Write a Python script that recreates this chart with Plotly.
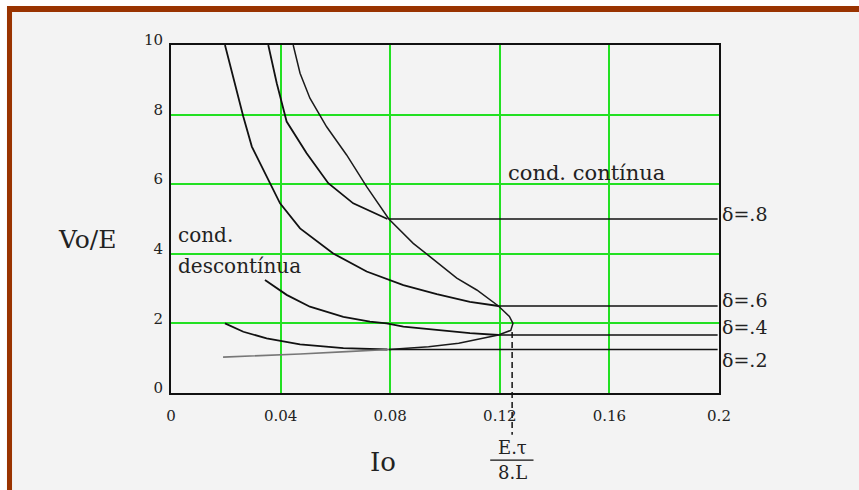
import plotly.graph_objects as go

# ---- data ----
x_ticks = [0, 0.04, 0.08, 0.12, 0.16, 0.2]
x_ticklabels = ["0", "0.04", "0.08", "0.12", "0.16", "0.2"]
y_ticks = [0, 2, 4, 6, 8, 10]
y_ticklabels = ["0", "2", "4", "6", "8", "10"]

# discontinuous-conduction curves for each duty cycle
d08_io = [0.0355, 0.0386, 0.0422, 0.0495, 0.0574, 0.0665, 0.0790]
d08_v = [10.0, 8.9, 7.8, 6.89, 6.03, 5.45, 5.0]
d06_io = [0.0197, 0.0264, 0.0295, 0.0361, 0.0398, 0.0471, 0.0592, 0.0714, 0.0848, 0.097, 0.1091, 0.1195]
d06_v = [10.0, 7.94, 7.08, 6.03, 5.45, 4.73, 4.01, 3.49, 3.10, 2.84, 2.62, 2.50]
d04_io = [0.0343, 0.0422, 0.0507, 0.0629, 0.0726, 0.0787, 0.0848, 0.097, 0.1091, 0.1195]
d04_v = [3.25, 2.82, 2.48, 2.19, 2.05, 2.0, 1.91, 1.81, 1.72, 1.667]
d02_io = [0.0197, 0.0264, 0.0349, 0.0471, 0.0629, 0.0790]
d02_v = [2.0, 1.76, 1.57, 1.40, 1.29, 1.25]

# continuous-conduction levels (horizontal lines)
delta_labels = ["δ=.8", "δ=.6", "δ=.4", "δ=.2"]
delta_levels = [5.0, 2.5, 1.667, 1.25]
delta_start_io = [0.0795, 0.1195, 0.1195, 0.0795]
delta_end_io = 0.1995
delta_label_v = [5.15, 2.68, 1.9, 0.95]

# boundary between conduction modes
bnd_low_io = [0.019, 0.030, 0.0386, 0.0471, 0.0641, 0.0795]
bnd_low_v = [1.03, 1.06, 1.09, 1.12, 1.19, 1.25]
bnd_io = [0.0795, 0.094, 0.105, 0.1195, 0.124, 0.1248, 0.1235, 0.1195, 0.1116, 0.1043,
          0.0945, 0.0884, 0.0795, 0.0714, 0.0641, 0.0568, 0.0507, 0.0471, 0.0446]
bnd_v = [1.25, 1.33, 1.43, 1.667, 1.80, 2.0, 2.2, 2.5, 2.96, 3.30,
         3.92, 4.30, 5.0, 5.93, 6.84, 7.65, 8.47, 9.19, 10.0]

tip_io = 0.1245
dash_top_v = 1.75
y_max = 10
x_max = 0.2

FONT = "DejaVu Serif"
GRID = "#22e022"

fig = go.Figure()

for xs, ys in [(d08_io, d08_v), (d06_io, d06_v), (d04_io, d04_v), (d02_io, d02_v)]:
    fig.add_trace(go.Scatter(x=xs, y=ys, mode="lines",
                             line=dict(color="#111111", width=1.8),
                             showlegend=False, hoverinfo="skip"))

for lvl, x0 in zip(delta_levels, delta_start_io):
    fig.add_trace(go.Scatter(x=[x0, delta_end_io], y=[lvl, lvl], mode="lines",
                             line=dict(color="#111111", width=1.4),
                             showlegend=False, hoverinfo="skip"))

fig.add_trace(go.Scatter(x=bnd_low_io, y=bnd_low_v, mode="lines",
                         line=dict(color="#777777", width=1.6),
                         showlegend=False, hoverinfo="skip"))
fig.add_trace(go.Scatter(x=bnd_io, y=bnd_v, mode="lines",
                         line=dict(color="#1a1a1a", width=1.5),
                         showlegend=False, hoverinfo="skip"))

# dashed marker at the boundary maximum, extending below the axis
fig.add_shape(type="line", xref="x", yref="paper", x0=tip_io, x1=tip_io,
              y0=dash_top_v / y_max, y1=-0.12,
              line=dict(color="#111111", width=1.5, dash="6px,4px"))
# fraction bar
fig.add_shape(type="line", xref="x", yref="paper", x0=tip_io - 0.0080, x1=tip_io + 0.0078,
              y0=-0.193, y1=-0.193, line=dict(color="#111111", width=1.3))

# frame decoration (white margin + brown border on top and left)
fig.add_shape(type="rect", xref="paper", yref="paper", x0=-0.32, x1=1.3, y0=1.1121, y1=1.14,
              fillcolor="white", line=dict(width=0))
fig.add_shape(type="rect", xref="paper", yref="paper", x0=-0.32, x1=1.3, y0=1.0948, y1=1.1121,
              fillcolor="#993300", line=dict(width=0))
fig.add_shape(type="rect", xref="paper", yref="paper", x0=-0.32, x1=-0.2993, y0=-0.3, y1=1.1121,
              fillcolor="white", line=dict(width=0))
fig.add_shape(type="rect", xref="paper", yref="paper", x0=-0.2993, x1=-0.2901, y0=-0.3, y1=1.0948,
              fillcolor="#993300", line=dict(width=0))

ann = []
for lab, v in zip(delta_labels, delta_label_v):
    ann.append(dict(x=x_max, y=v, xref="x", yref="y", text=lab, showarrow=False,
                    xanchor="left", yanchor="middle", xshift=1,
                    font=dict(family=FONT, size=19, color="#222222")))
ann += [
    dict(x=0.1515, y=6.33, xref="x", yref="y", text="cond. contínua", showarrow=False,
         xanchor="center", yanchor="middle", font=dict(family=FONT, size=21, color="#222222")),
    dict(x=0.002, y=4.55, xref="x", yref="y", text="cond.", showarrow=False,
         xanchor="left", yanchor="middle", font=dict(family=FONT, size=20, color="#222222")),
    dict(x=0.002, y=3.65, xref="x", yref="y", text="descontínua", showarrow=False,
         xanchor="left", yanchor="middle", font=dict(family=FONT, size=20, color="#222222")),
    dict(x=-0.153, y=0.44, xref="paper", yref="paper", text="Vo/E", showarrow=False,
         xanchor="center", yanchor="middle", font=dict(family=FONT, size=25, color="#222222")),
    dict(x=0.386, y=-0.197, xref="paper", yref="paper", text="Io", showarrow=False,
         xanchor="center", yanchor="middle", font=dict(family=FONT, size=26, color="#222222")),
    dict(x=tip_io, y=-0.158, xref="x", yref="paper", text="E.τ", showarrow=False,
         xanchor="center", yanchor="middle", font=dict(family=FONT, size=18, color="#222222")),
    dict(x=tip_io, y=-0.228, xref="x", yref="paper", text="8.L", showarrow=False,
         xanchor="center", yanchor="middle", font=dict(family=FONT, size=18, color="#222222")),
]

fig.update_layout(
    width=859, height=490,
    margin=dict(l=171, r=140, t=45, b=97),
    paper_bgcolor="#f3f3f3", plot_bgcolor="#f3f3f3",
    annotations=ann,
    font=dict(family=FONT, color="#222222"),
)
fig.update_xaxes(range=[0, x_max], tickvals=x_ticks, ticktext=x_ticklabels,
                 showgrid=True, gridcolor=GRID, gridwidth=2, zeroline=False,
                 showline=True, linecolor="#111111", linewidth=2, mirror=True,
                 ticks="", ticklabelstandoff=8, tickfont=dict(family=FONT, size=15, color="#222222"))
fig.update_yaxes(range=[0, y_max], tickvals=y_ticks, ticktext=y_ticklabels,
                 showgrid=True, gridcolor=GRID, gridwidth=2, zeroline=False,
                 showline=True, linecolor="#111111", linewidth=2, mirror=True,
                 ticks="", ticklabelstandoff=3, ticklabelshift=-5,
                 tickfont=dict(family=FONT, size=15, color="#222222"))

fig.write_html("out.html")
